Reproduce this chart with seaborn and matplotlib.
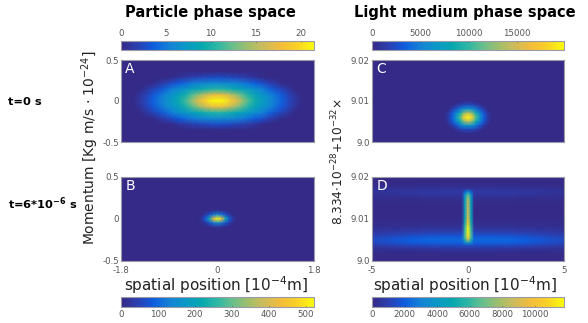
import numpy as np
import seaborn as sns
import matplotlib
matplotlib.use("Agg")
import matplotlib.pyplot as plt
from matplotlib.colors import LinearSegmentedColormap

plt.rcParams['mathtext.default'] = 'regular'

# colours of the bars
parula = ['#352a87', '#2c3fb0', '#0f5cdd', '#1481d6', '#0a98c6', '#06a7b0', '#2eb7a4',
          '#6cbf8a', '#a5be6a', '#d1bb59', '#f5bd39', '#fbd326', '#f9fb0e']

# values, one quarter of each blob (centre is first row / first column)
quarter_a = [[21.5, 21, 19.2, 16.9, 13.8, 11.3, 9.2, 7.6, 6.4, 5.1, 3.9, 2.5, 1.4, 0.3, 0, 0],
             [17.6, 17.2, 15.6, 13.7, 11.7, 9.8, 8.1, 6.9, 6, 4.6, 3.4, 2.1, 1, 0.1, 0, 0],
             [10.3, 10.1, 9.5, 8.8, 8, 7.1, 6.3, 5.4, 4.1, 3.1, 2.1, 1.1, 0.2, 0, 0, 0],
             [6.2, 6.1, 5.9, 5.6, 5, 4.3, 3.6, 2.9, 2, 1.1, 0.2, 0, 0, 0, 0, 0],
             [2.7, 2.6, 2.4, 2.1, 1.8, 1.3, 0.9, 0.3, 0, 0, 0, 0, 0, 0, 0, 0],
             [0, 0, 0, 0, 0, 0, 0, 0, 0, 0, 0, 0, 0, 0, 0, 0],
             [0, 0, 0, 0, 0, 0, 0, 0, 0, 0, 0, 0, 0, 0, 0, 0],
             [0, 0, 0, 0, 0, 0, 0, 0, 0, 0, 0, 0, 0, 0, 0, 0]]
quarter_b = [[522, 430, 230, 90, 20, 0],
             [140, 115, 70, 28, 5, 0],
             [10, 8, 4, 0, 0, 0]]
quarter_c = [[20000, 18000, 11000, 6500, 3500, 1200, 0],
             [14500, 12500, 8500, 5400, 2900, 1000, 0],
             [6500, 6000, 4600, 2900, 1200, 200, 0],
             [2300, 2100, 1400, 700, 0, 0, 0],
             [0, 0, 0, 0, 0, 0, 0]]

# panel D is two bands and one thin spike
band_rows = [0, 0, 50, 200, 450, 650, 550, 300, 150, 80, 40, 0, 0, 40, 80,
             150, 250, 450, 800, 1300, 1900, 2300, 2100, 1300, 600, 250, 80, 0, 0]
band_cols = [1, 1, 1, 1, 1, 1, 1, 1, 1, 1, 1, .98, .98, .97, .96, .95, .94,
             .92, .9, .88, .86, .84, .82, .8, .78, .76, .74, .72, .7, .68, .66, .62, .58]
spike_rows = [0, 0, 0, 0, 0, 3000, 6000, 7500, 8300, 8600, 8800, 8900, 9000, 9200, 9500,
              10000, 10500, 11000, 10800, 10000, 9000, 6500, 2000, 0, 0, 0, 0, 0, 0]
spike_cols = [1, .5, .02, 0]

vmax_a, vmax_b, vmax_c, vmax_d = 21.5, 522, 19900, 11780
ticks_a = [0, 5, 10, 15, 20]
ticks_b = [0, 100, 200, 300, 400, 500]
ticks_c = [0, 5000, 10000, 15000]
ticks_d = [0, 2000, 4000, 6000, 8000, 10000]


def mirror(quarter, n_rows, n_cols, row0, col0):
    q = np.array(quarter, dtype=float)
    full = np.zeros((n_rows, n_cols))
    h, w = q.shape
    for i in range(-h + 1, h):
        for j in range(-w + 1, w):
            full[row0 + i, col0 + j] = q[abs(i), abs(j)]
    return full


grid_a = mirror(quarter_a, 15, 31, 7, 15)
grid_b = mirror(quarter_b, 21, 49, 10, 24)
grid_c = mirror(quarter_c, 21, 49, 14, 24)

side = np.array(band_cols)
grid_d = np.outer(band_rows, np.r_[side[::-1], side[1:]])
spike = np.zeros(65)
for k, s in enumerate(spike_cols):
    spike[32 - k] = s
    spike[32 + k] = s
grid_d = grid_d + np.outer(spike_rows, spike)

cmap = LinearSegmentedColormap.from_list('parula', parula)
W, H = 588, 323
fig = plt.figure(figsize=(W / 100, H / 100), dpi=100)


def px_axes(x0, y0, x1, y1):
    return fig.add_axes([x0 / W, 1 - y1 / H, (x1 - x0) / W, (y1 - y0) / H])


gray = '#555555'
edge = '#9a9aa8'
panels = [
    (grid_a, vmax_a, ticks_a, 'A', (121, 60, 314, 142), (121, 41, 314, 50), 'top', ['0.5', '0', '-0.5'], None),
    (grid_b, vmax_b, ticks_b, 'B', (121, 177, 314, 261), (121, 297, 314, 307), 'bottom', ['0.5', '0', '-0.5'], ['-1.8', '0', '1.8']),
    (grid_c, vmax_c, ticks_c, 'C', (372, 60, 564, 142), (372, 41, 564, 50), 'top', ['9.02', '9.01', '9.0'], None),
    (grid_d, vmax_d, ticks_d, 'D', (372, 177, 564, 261), (372, 297, 564, 307), 'bottom', ['9.02', '9.01', '9.0'], ['-5', '0', '5']),
]

for grid, vmax, ticks, letter, box, cbox, side_cb, ylabs, xlabs in panels:
    ax = px_axes(*box)
    cax = px_axes(*cbox)
    sns.heatmap(grid, ax=ax, cmap=cmap, vmin=0, vmax=vmax, cbar_ax=cax, shading='gouraud',
                xticklabels=False, yticklabels=False,
                cbar_kws={'orientation': 'horizontal', 'ticks': ticks})
    rows, cols = grid.shape
    ax.set_xlim(0, cols - 1)
    ax.set_ylim(rows - 1, 0)
    ax.set_yticks([0, (rows - 1) / 2, rows - 1])
    ax.set_yticklabels(ylabs, rotation=0)
    if xlabs:
        ax.set_xticks([0, (cols - 1) / 2, cols - 1])
        ax.set_xticklabels(xlabs, rotation=0)
    else:
        ax.set_xticks([])
    ax.tick_params(length=0, labelsize=6.2, labelcolor=gray, pad=1.5)
    ax.tick_params(axis='x', pad=3.5)
    for sp in ax.spines.values():
        sp.set_visible(True)
        sp.set_color(edge)
        sp.set_linewidth(0.8)
    ax.text(0.022, 0.89, letter, transform=ax.transAxes, color='white', fontsize=10, va='center')

    cax.xaxis.set_ticks_position(side_cb)
    cax.tick_params(length=1, width=0.4, direction='in', labelsize=6.2, labelcolor=gray, pad=2.5)
    cb = ax.collections[0].colorbar
    cb.outline.set_visible(True)
    cb.outline.set_edgecolor(edge)
    cb.outline.set_linewidth(0.8)

fig.text(210 / W, 1 - 12 / H, 'Particle phase space', fontsize=10.5, fontweight='bold', ha='center', va='center')
fig.text(465 / W, 1 - 12 / H, 'Light medium phase space', fontsize=10.5, fontweight='bold', ha='center', va='center')
fig.text(8 / W, 1 - 102 / H, 't=0 s', fontsize=8.2, fontweight='bold', va='center')
fig.text(8 / W, 1 - 204 / H, 't=6*10$^{\\mathbf{-6}}$ s', fontsize=8.2, fontweight='bold', va='center')
fig.text(90 / W, 1 - 148 / H, 'Momentum [Kg m/s $\\cdot$ 10$^{-24}$]', fontsize=10, rotation=90, ha='center', va='center', color='#222222')
fig.text(338 / W, 1 - 162 / H, '8.334$\\cdot$10$^{-28}$+10$^{-32}$$\\times$', fontsize=8.7, rotation=90, ha='center', va='center', color='#222222')
fig.text(216 / W, 1 - 285 / H, 'spatial position [10$^{-4}$m]', fontsize=11, ha='center', va='center', color='#222222')
fig.text(465 / W, 1 - 285 / H, 'spatial position [10$^{-4}$m]', fontsize=11, ha='center', va='center', color='#222222')

fig.savefig('out.png', dpi=100)
